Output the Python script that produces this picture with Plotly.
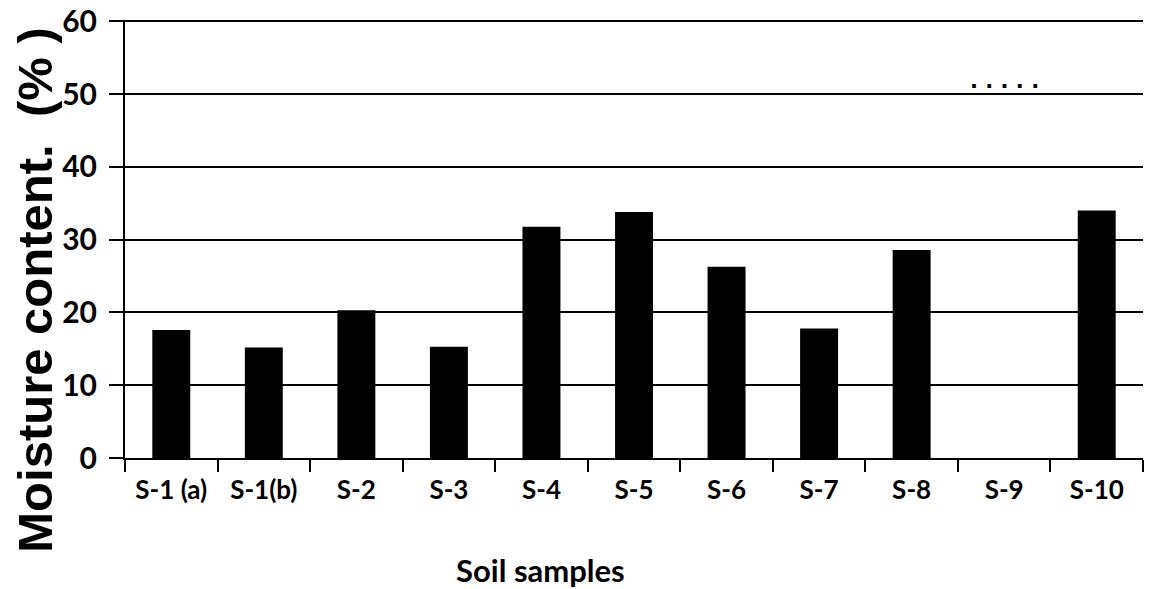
import plotly.graph_objects as go

samples = ["S-1 (a)", "S-1(b)", "S-2", "S-3", "S-4", "S-5", "S-6", "S-7", "S-8", "S-9", "S-10"]
moisture = [17.6, 15.2, 20.3, 15.3, 31.8, 33.8, 26.3, 17.8, 28.6, 0.0, 34.0]
y_ticks = [0, 10, 20, 30, 40, 50, 60]

fig = go.Figure()
fig.add_trace(go.Bar(x=samples, y=moisture, marker=dict(color="black", line=dict(width=0)),
                     showlegend=False))

fig.add_annotation(x="S-9", y=49.9, text=". . . . .", showarrow=False,
                   font=dict(family="DejaVu Sans", size=21, color="black", weight="bold"), yanchor="bottom")

# axis titles placed as annotations to match the reference positions
fig.add_annotation(xref="paper", yref="paper", x=-0.0884, y=0.382, text="<b>Moisture content.  (% )</b>",
                   textangle=-90, showarrow=False, xanchor="center", yanchor="middle",
                   font=dict(family="Liberation Sans", size=49, color="black"))
fig.add_annotation(xref="paper", yref="paper", x=0.408, y=-0.256, text="<b>Soil samples</b>",
                   showarrow=False, xanchor="center", yanchor="middle",
                   font=dict(family="Lato", size=31, color="black"))

fig.update_layout(
    width=1153, height=589,
    margin=dict(l=125, r=10, t=20, b=131),
    plot_bgcolor="white", paper_bgcolor="white",
    bargap=0.59,
    xaxis=dict(
        automargin=False,
        tickson="boundaries", ticks="outside", ticklen=12, tickwidth=2, tickcolor="black",
        showline=True, linecolor="black", linewidth=2,
        tickfont=dict(family="Lato", size=26, color="black", weight="bold"),
        ticklabelstandoff=8,
    ),
    yaxis=dict(
        automargin=False, ticklabeloverflow="allow",
        range=[0, 60.2], tickvals=y_ticks, ticks="outside", ticklen=14, tickwidth=2, tickcolor="black",
        showline=True, linecolor="black", linewidth=2,
        showgrid=True, gridcolor="black", gridwidth=2, zeroline=False,
        tickfont=dict(family="Lato", size=30, color="black", weight="bold"),
        ticklabelstandoff=6,
    ),
)

fig.write_html("out.html", config={"displayModeBar": False},
               post_script="document.body.style.margin='0';")
